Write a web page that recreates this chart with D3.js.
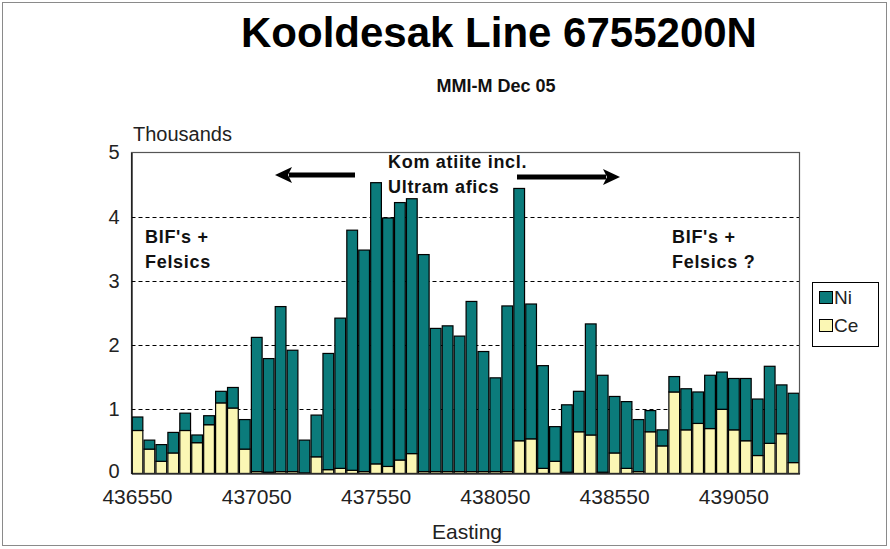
<!DOCTYPE html>
<html>
<head>
<meta charset="utf-8">
<script src="https://cdn.jsdelivr.net/npm/d3@7"></script>
<style>
  html, body { margin: 0; padding: 0; background: #fff; }
  svg { display: block; font-family: "Liberation Sans", Arial, sans-serif; }
</style>
</head>
<body>
<svg id="chart" width="890" height="549"></svg>
<script>
// Sample stations along the line (Easting, 50 m spacing)
const eastings = [
  436550, 436600, 436650, 436700, 436750, 436800, 436850, 436900, 436950, 437000,
  437050, 437100, 437150, 437200, 437250, 437300, 437350, 437400, 437450, 437500,
  437550, 437600, 437650, 437700, 437750, 437800, 437850, 437900, 437950, 438000,
  438050, 438100, 438150, 438200, 438250, 438300, 438350, 438400, 438450, 438500,
  438550, 438600, 438650, 438700, 438750, 438800, 438850, 438900, 438950, 439000,
  439050, 439100, 439150, 439200, 439250, 439300
];

// Ce response (stacked at the bottom)
const ce = [
  670, 380, 190, 320, 670, 480, 760, 1100, 1020, 380,
  30, 20, 30, 30, 10, 260, 60, 80, 50, 30,
  150, 110, 210, 310, 30, 30, 30, 30, 30, 30,
  30, 30, 510, 540, 80, 190, 20, 650, 600, 20,
  320, 80, 30, 650, 430, 1270, 680, 780, 700, 1000,
  680, 510, 280, 470, 620, 170
];

// Ni response (stacked on top of Ce)
const ni = [
  210, 140, 260, 320, 270, 120, 140, 180, 320, 460,
  2090, 1770, 2570, 1890, 510, 650, 1810, 2340, 3740, 3450,
  4380, 3870, 4010, 3970, 3380, 2230, 2270, 2110, 2650, 1870,
  1460, 2580, 3930, 2100, 1600, 540, 1050, 630, 1730, 1510,
  880, 1040, 810, 330, 250, 240, 640, 490, 830, 580,
  800, 970, 880, 1200, 760, 1080
];

const seriesNames = ["Ce", "Ni"];
const seriesColors = { Ni: "#0b7b7b", Ce: "#fbf7b4" };
const yTicks = [0, 1000, 2000, 3000, 4000, 5000];
const xTickLabels = [436550, 437050, 437550, 438050, 438550, 439050];

const svg = d3.select("#chart");
const W = 890, H = 549;
const plot = { left: 131.5, right: 799.5, top: 152.5, bottom: 473.5 };

// outer frame
svg.append("rect")
  .attr("x", 2.5).attr("y", 2.5)
  .attr("width", W - 6).attr("height", H - 6)
  .attr("fill", "#fff").attr("stroke", "#8a8a8a").attr("stroke-width", 1);

// titles
svg.append("text")
  .attr("x", 499).attr("y", 47)
  .attr("text-anchor", "middle")
  .attr("font-weight", "bold").attr("font-size", 42)
  .attr("fill", "#000")
  .text("Kooldesak Line 6755200N");

svg.append("text")
  .attr("x", 496).attr("y", 92)
  .attr("text-anchor", "middle")
  .attr("font-weight", "bold").attr("font-size", 18)
  .attr("fill", "#111")
  .text("MMI-M Dec 05");

// scales
const x = d3.scaleBand()
  .domain(eastings)
  .range([plot.left, plot.right])
  .paddingInner(0.1)
  .paddingOuter(0.05);

const y = d3.scaleLinear()
  .domain([0, 5000])
  .range([plot.bottom, plot.top]);

// dashed gridlines
svg.append("g")
  .selectAll("line")
  .data(yTicks.filter(t => t > 0 && t < 5000))
  .join("line")
  .attr("x1", plot.left).attr("x2", plot.right)
  .attr("y1", d => Math.round(y(d)) + 0.5)
  .attr("y2", d => Math.round(y(d)) + 0.5)
  .attr("stroke", "#000")
  .attr("stroke-width", 1)
  .attr("stroke-dasharray", "4,3");

// stacked bars
const table = eastings.map((e, i) => ({ easting: e, Ce: ce[i], Ni: ni[i] }));
const stack = d3.stack().keys(seriesNames)(table);

svg.append("g")
  .selectAll("g")
  .data(stack)
  .join("g")
  .attr("fill", d => seriesColors[d.key])
  .selectAll("rect")
  .data(d => d)
  .join("rect")
  .attr("x", d => x(d.data.easting))
  .attr("width", x.bandwidth())
  .attr("y", d => y(d[1]))
  .attr("height", d => y(d[0]) - y(d[1]))
  .attr("stroke", "#000")
  .attr("stroke-width", 1.2);

// plot frame
svg.append("rect")
  .attr("x", plot.left).attr("y", plot.top)
  .attr("width", plot.right - plot.left)
  .attr("height", plot.bottom - plot.top)
  .attr("fill", "none")
  .attr("stroke", "#555").attr("stroke-width", 1.2);

// y axis
const yAxis = d3.axisLeft(y)
  .tickValues(yTicks)
  .tickFormat(d => d / 1000)
  .tickSize(0)
  .tickPadding(12);
const gy = svg.append("g")
  .attr("transform", `translate(${plot.left},0)`)
  .call(yAxis);
gy.select(".domain").attr("stroke", "#000").attr("stroke-width", 1.2);
gy.selectAll("text")
  .attr("font-family", "'Liberation Sans', Arial, sans-serif")
  .attr("font-size", 20).attr("fill", "#222");
gy.selectAll(".tick").filter(d => d === 0).select("text").attr("dy", "0.2em");

// x axis
const xAxis = d3.axisBottom(x)
  .tickValues(xTickLabels)
  .tickSize(0)
  .tickPadding(16);
const gx = svg.append("g")
  .attr("transform", `translate(0,${plot.bottom})`)
  .call(xAxis);
gx.select(".domain").attr("stroke", "#000").attr("stroke-width", 1.2);
gx.selectAll("text")
  .attr("font-family", "'Liberation Sans', Arial, sans-serif")
  .attr("font-size", 21).attr("fill", "#222");

// axis titles
svg.append("text")
  .attr("x", 133).attr("y", 141)
  .attr("font-size", 20).attr("fill", "#222")
  .text("Thousands");

svg.append("text")
  .attr("x", 467).attr("y", 539)
  .attr("text-anchor", "middle")
  .attr("font-size", 21).attr("fill", "#222")
  .text("Easting");

// annotations
const note = (tx, ty, str) => svg.append("text")
  .attr("x", tx).attr("y", ty)
  .attr("font-weight", "bold").attr("font-size", 18)
  .attr("letter-spacing", 0.7)
  .attr("fill", "#111")
  .text(str);

note(388, 168, "Kom atiite incl.");
note(388, 193, "Ultram afics");
note(145, 243, "BIF's +");
note(145, 268, "Felsics");
note(672, 243, "BIF's +");
note(672, 268, "Felsics ?");

// arrows
function arrow(x0, x1, yy) {
  const dir = Math.sign(x1 - x0);
  const head = 17, half = 8;
  svg.append("line")
    .attr("x1", x0).attr("x2", x1 - dir * (head - 3))
    .attr("y1", yy).attr("y2", yy)
    .attr("stroke", "#000").attr("stroke-width", 5);
  svg.append("path")
    .attr("d", `M${x1},${yy} L${x1 - dir * head},${yy - half} L${x1 - dir * (head - 4)},${yy} L${x1 - dir * head},${yy + half} Z`)
    .attr("fill", "#000");
}
arrow(355, 275, 175);
arrow(517, 620, 177);

// legend
const lg = svg.append("g");
lg.append("rect")
  .attr("x", 812.5).attr("y", 282.5)
  .attr("width", 66).attr("height", 64)
  .attr("fill", "#fff").attr("stroke", "#000").attr("stroke-width", 1);

const legendItems = ["Ni", "Ce"];
legendItems.forEach((k, i) => {
  const yy = 291 + i * 28;
  lg.append("rect")
    .attr("x", 819.5).attr("y", yy + 0.5)
    .attr("width", 13).attr("height", 12)
    .attr("fill", seriesColors[k])
    .attr("stroke", "#000").attr("stroke-width", 1);
  lg.append("text")
    .attr("x", 834).attr("y", yy + 13)
    .attr("font-size", 19).attr("fill", "#222")
    .text(k);
});
</script>
</body>
</html>
